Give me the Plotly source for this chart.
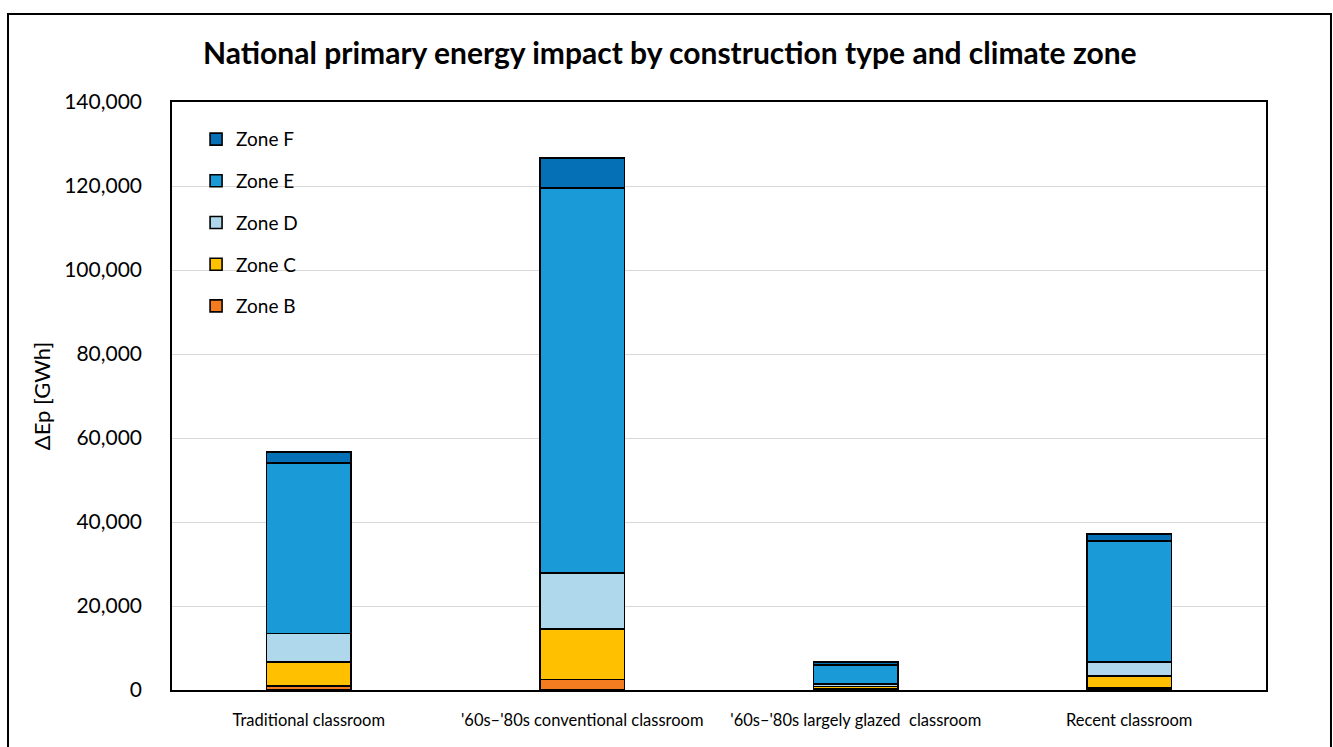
import plotly.graph_objects as go

# Construction types (x categories)
categories = [
    "Traditional classroom",
    "'60s–'80s conventional classroom",
    "'60s–'80s largely glazed  classroom",
    "Recent classroom",
]

# Primary energy impact per climate zone [GWh]
zone_b = [1000, 2500, 300, 500]
zone_c = [5700, 12000, 500, 2800]
zone_d = [6800, 13400, 600, 3400]
zone_e = [40600, 91600, 4600, 28800]
zone_f = [2500, 7200, 700, 1600]

y_ticks = [0, 20000, 40000, 60000, 80000, 100000, 120000, 140000]

# (name, values, colour, legend rank) -- stacked bottom to top, listed top to bottom
series = [
    ("Zone B", zone_b, "#F37C20", 5),
    ("Zone C", zone_c, "#FFC000", 4),
    ("Zone D", zone_d, "#B0D8EC", 3),
    ("Zone E", zone_e, "#1A9AD6", 2),
    ("Zone F", zone_f, "#0670B6", 1),
]

FONT = "Lato"

fig = go.Figure()
for name, vals, color, rank in series:
    fig.add_trace(go.Bar(
        x=categories,
        y=vals,
        name=name,
        legendgroup=name,
        legendrank=rank,
        width=0.31,
        marker=dict(color=color, line=dict(color="black", width=1.6)),
    ))

fig.update_layout(
    width=1333,
    height=747,
    barmode="stack",
    paper_bgcolor="white",
    plot_bgcolor="white",
    margin=dict(l=172, r=67, t=102, b=57),
    font=dict(family=FONT, color="black"),
    title=dict(
        text="<b>National primary energy impact by construction type and climate zone</b>",
        x=0.5025, xanchor="center",
        y=0.929, yanchor="middle",
        font=dict(family=FONT, size=30, color="black"),
    ),
    legend=dict(
        x=0.022, y=0.969, xanchor="left", yanchor="top",
        traceorder="grouped",
        tracegroupgap=14,
        itemwidth=30,
        font=dict(family=FONT, size=19, color="black"),
        bgcolor="rgba(0,0,0,0)",
    ),
    showlegend=True,
)

fig.update_xaxes(
    type="category",
    range=[-0.5, 3.5],
    showline=True, mirror=True, linecolor="black", linewidth=1.5,
    showgrid=False,
    ticks="",
    ticklabelstandoff=14,
    tickfont=dict(family=FONT, size=16.5, color="black"),
)

fig.update_yaxes(
    range=[0, 140000],
    tickvals=y_ticks,
    tickformat=",",
    showline=True, mirror=True, linecolor="black", linewidth=1.5,
    showgrid=True, gridcolor="#D9D9D9", gridwidth=1,
    zeroline=False,
    ticks="",
    ticklabelstandoff=24,
    tickfont=dict(family=FONT, size=21, color="black"),
    title=dict(text="ΔEp [GWh]", standoff=7,
               font=dict(family=FONT, size=22, color="black")),
)

# Outer chart frame
fig.add_shape(
    type="rect", xref="paper", yref="paper",
    x0=-0.1499, x1=1.0594, y0=-0.2, y1=1.1497,
    line=dict(color="black", width=2), fillcolor="rgba(0,0,0,0)",
    layer="above",
)

fig.write_html("out.html")
